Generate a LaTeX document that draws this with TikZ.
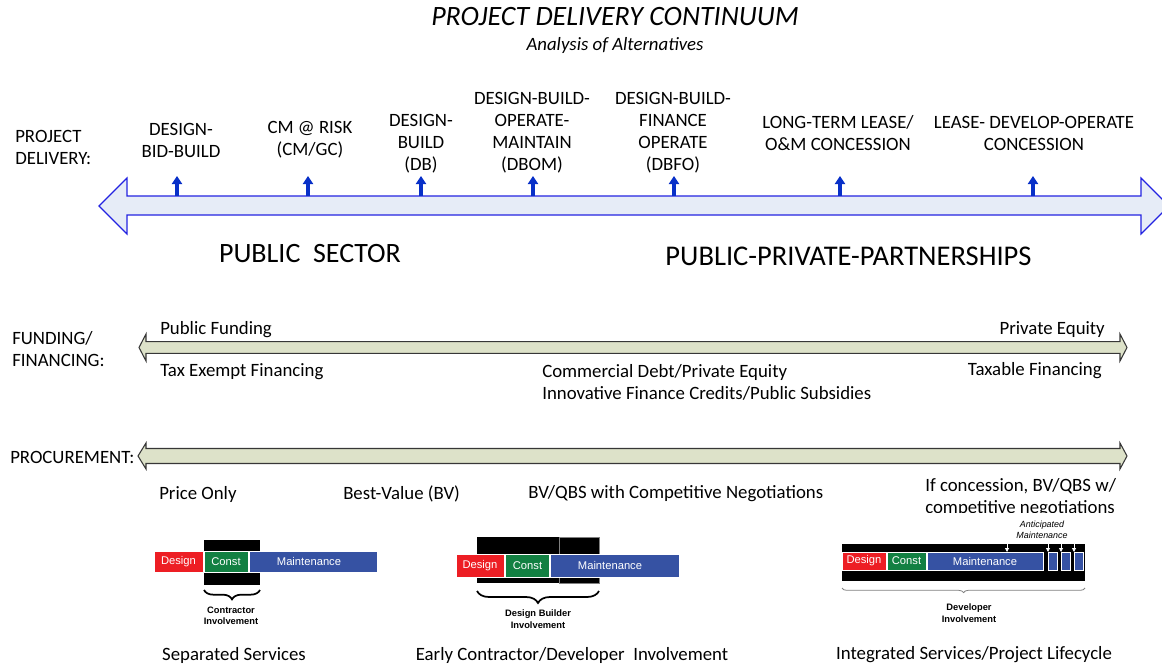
\documentclass[tikz,border=0pt]{standalone}
\usepackage{fontspec}
\setmainfont{Carlito}
\newfontfamily\arialfont{Liberation Sans}
\usetikzlibrary{arrows.meta,decorations.pathreplacing}

\definecolor{dsgred}{RGB}{237,30,36}
\definecolor{cnstgreen}{RGB}{18,128,66}
\definecolor{mntblue}{RGB}{54,82,163}
\definecolor{bigfill}{RGB}{230,236,247}
\definecolor{bigline}{RGB}{35,35,225}
\definecolor{ptrblue}{RGB}{8,48,200}
\definecolor{barfill}{RGB}{221,226,201}
\definecolor{barline}{RGB}{55,55,55}

\begin{document}
\begin{tikzpicture}[x=0.75pt,y=-0.75pt,
  lbl/.style={font=\fontsize{14.1}{16.5}\selectfont, align=center, inner sep=0pt, yshift=-1.5pt},
  sidelbl/.style={lbl, align=left, anchor=west},
  bigtxt/.style={font=\fontsize{21}{25}\selectfont, inner sep=0pt},
  ptr/.style={ptrblue, line width=3pt, -{Triangle[width=7.5pt,length=6pt]}},
  bigarrow/.style={fill=bigfill, draw=bigline, line width=0.9pt},
  bararrow/.style={fill=barfill, draw=barline, line width=0.8pt},
  phase/.style={draw=white, line width=0.7pt},
  phasetxt/.style={text=white, font=\arialfont\fontsize{8.4}{10}\selectfont, inner sep=0pt},
  invtxt/.style={font=\arialfont\bfseries\fontsize{7}{8.6}\selectfont, align=center, inner sep=0pt},
  thickbrace/.style={decorate, line width=1.3pt},
]
\useasboundingbox (0,0) rectangle (1162,663);

% ---------- title ----------
\node[bigtxt] (title) at (615,17) {\itshape PROJECT DELIVERY CONTINUUM};
\node[lbl] (subtitle) at (615,43.5) {\itshape Analysis of Alternatives};

% ---------- project delivery ----------
\node[sidelbl] (pdlbl) at (15,145) {PROJECT\\DELIVERY:};
\node[lbl] (dbb)  at (181,138) {DESIGN-\\BID-BUILD};
\node[lbl] (cmr)  at (310,138) {CM @ RISK\\(CM/GC)};
\node[lbl] (db)   at (421,142) {DESIGN-\\BUILD\\(DB)};
\node[lbl] (dbom) at (532,131) {DESIGN-BUILD-\\OPERATE-\\MAINTAIN\\(DBOM)};
\node[lbl] (dbfo) at (673,131) {DESIGN-BUILD-\\FINANCE\\OPERATE\\(DBFO)};
\node[lbl] (ltl)  at (838,131) {LONG-TERM LEASE/\\O\&M CONCESSION};
\node[lbl] (ldo)  at (1034,131) {LEASE- DEVELOP-OPERATE\\CONCESSION};

% double-headed continuum arrow
\path[bigarrow] (99,206) -- (127,178) -- (127,196) -- (1141,196) -- (1141,178)
  -- (1169,206) -- (1141,234) -- (1141,215) -- (127,215) -- (127,234) -- cycle;

% pointers to each delivery method
\foreach \x in {177,308,421,533,674,840,1033}
  \draw[ptr] (\x,196) -- (\x,176);

\node[bigtxt] (pubsec) at (310,253.5) {PUBLIC\ \ SECTOR};
\node[bigtxt, font=\fontsize{21.4}{25}\selectfont] (ppp) at (848.5,256.5) {PUBLIC-PRIVATE-PARTNERSHIPS};

% ---------- funding / financing ----------
\node[sidelbl] (funlbl) at (12,347) {FUNDING/\\FINANCING:};
\path[bararrow] (139,347.5) -- (146,334) -- (146,341.7) -- (1120,341.7) -- (1120,334)
  -- (1127,347.5) -- (1120,361) -- (1120,353.3) -- (146,353.3) -- (146,361) -- cycle;
\node[lbl, anchor=west] (pubfund) at (160,328) {Public Funding};
\node[lbl, anchor=west] (taxex) at (160,370) {Tax Exempt Financing};
\node[lbl, anchor=east] (priveq) at (1105,328) {Private Equity};
\node[lbl, anchor=east] (taxable) at (1102,369) {Taxable Financing};
\node[sidelbl] (commdebt) at (542,380) {Commercial Debt/Private Equity\\Innovative Finance Credits/Public Subsidies};

% ---------- procurement ----------
\node[sidelbl] (proclbl) at (10,455) {PROCUREMENT:};
\path[bararrow] (138,456) -- (146,443) -- (146,448.5) -- (1120,448.5) -- (1120,443)
  -- (1127,456) -- (1120,469) -- (1120,463.5) -- (146,463.5) -- (146,469) -- cycle;
\node[lbl, anchor=west] (price) at (159,492) {Price Only};
\node[lbl, anchor=west] (bv) at (343,492) {Best-Value (BV)};
\node[lbl, anchor=west] (bvqbs) at (528,492) {BV/QBS with Competitive Negotiations};
\begin{scope}
  \clip (0,0) rectangle (1162,512);
  \node[sidelbl] (concess) at (925,496) {If concession, BV/QBS w/\\competitive negotiations};
\end{scope}

% ---------- separated services ----------
\fill[black] (204,540) rectangle (260,585);
\path[phase, fill=dsgred] (154,551) rectangle (203,572);
\path[phase, fill=cnstgreen] (204,551) rectangle (248,572);
\path[phase, fill=mntblue] (249,551) rectangle (377,572);
\node[phasetxt] (d1) at (178.5,561.5) {Design};
\node[phasetxt] (c1) at (226,561.5) {Const};
\node[phasetxt] (m1) at (309,561.5) {Maintenance};
\draw[thickbrace, decoration={brace, amplitude=7pt}] (260,590) -- (204,590);
\node[invtxt] (inv1) at (231,616) {Contractor\\Involvement};
\node[lbl] (sep) at (234,653) {Separated Services};

% ---------- early contractor involvement ----------
\fill[black] (477,537) rectangle (599,583);
\draw[gray, line width=0.6pt] (559,537) rectangle (599,583);
\path[phase, fill=dsgred] (456,554) rectangle (504,577);
\path[phase, fill=cnstgreen] (505.5,554) rectangle (549,577);
\path[phase, fill=mntblue] (550.5,554) rectangle (679,577);
\node[phasetxt] (d2) at (480,565.5) {Design};
\node[phasetxt] (c2) at (527.5,565.5) {Const};
\node[phasetxt] (m2) at (610,565.5) {Maintenance};
\draw[thickbrace, decoration={brace, amplitude=9pt}] (599,591) -- (477,591);
\node[invtxt] (inv2) at (538,619) {Design Builder\\Involvement};
\node[lbl] (early) at (572,653) {Early Contractor/Developer\ \ Involvement};

% ---------- integrated services ----------
\fill[black] (842,544) rectangle (1085,581);
\path[phase, fill=dsgred] (842,552) rectangle (886,570);
\path[phase, fill=cnstgreen] (887,552) rectangle (926,570);
\path[phase, fill=mntblue] (927,552) rectangle (1043,570);
\foreach \a/\b in {1048/1057,1061/1070,1074/1083}
  \path[phase, fill=mntblue] (\a,552) rectangle (\b,570);
\node[phasetxt] (d3) at (864,561) {Design};
\node[phasetxt] (c3) at (906.5,561) {Const};
\node[phasetxt] (m3) at (985,561) {Maintenance};
\node[font=\arialfont\itshape\fontsize{6.7}{8}\selectfont, align=center, inner sep=0pt]
  (antic) at (1042,529.5) {Anticipated\\Maintenance};
\foreach \x in {1007,1048,1061,1074}
  \draw[white, line width=0.6pt, -{Triangle[width=3pt,length=3pt]}] (\x,542) -- (\x,552);
\draw[decorate, decoration={brace, amplitude=3.5pt}, gray, line width=0.6pt] (1085,588) -- (842,588);
\node[invtxt] (inv3) at (969,613) {Developer\\Involvement};
\node[lbl] (integ) at (974,653) {Integrated Services/Project Lifecycle};

\end{tikzpicture}
\end{document}
